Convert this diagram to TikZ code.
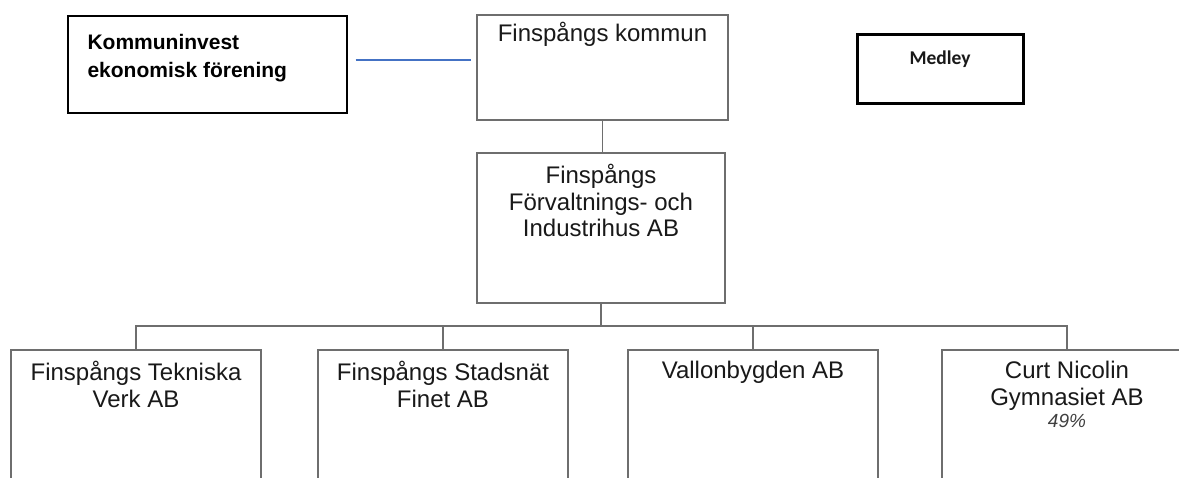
\documentclass[tikz,border=0pt]{standalone}
\usepackage{fontspec}
\setmainfont{Liberation Sans}
\newfontfamily\calfont{Carlito}
\definecolor{boxgray}{RGB}{110,110,110}
\definecolor{linkblue}{RGB}{68,114,196}
\definecolor{txtdark}{RGB}{25,25,25}
\begin{document}
\begin{tikzpicture}[x=1pt,y=-1pt,
  box/.style={draw=boxgray, line width=1.6pt, inner sep=0pt, rectangle},
  kbox/.style={draw=black, line width=1.3pt, inner sep=0pt, rectangle},
  mbox/.style={draw=black, line width=3pt, inner sep=0pt, rectangle},
  conn/.style={draw=boxgray, line width=1.6pt},
  bluelink/.style={draw=linkblue, line width=1.5pt},
  btxt/.style={font=\fontsize{24}{26.5}\selectfont, text=txtdark, align=center, anchor=north, inner sep=0pt},
  ktxt/.style={font=\fontsize{21}{28}\selectfont\bfseries, text=black, align=left, anchor=north west, inner sep=0pt},
  mtxt/.style={font=\calfont\fontsize{19.5}{22}\selectfont\bfseries, text=txtdark, anchor=north, inner sep=0pt}
]
\useasboundingbox (0,0) rectangle (1179,477);
\clip (0,0) rectangle (1179,477);
\fill[white] (0,0) rectangle (1179,477);

% boxes
\node[kbox, minimum width=279pt, minimum height=97pt] (kinv) at (207.5,64.5) {};
\node[box, minimum width=251pt, minimum height=105pt] (kommun) at (602.5,67.5) {};
\node[mbox, minimum width=166pt, minimum height=69pt] (medley) at (940,68.5) {};
\node[box, minimum width=248pt, minimum height=150pt] (ffi) at (601,228) {};

\node[box, minimum width=250pt, minimum height=220pt] (tek) at (136,460) {};
\node[box, minimum width=250pt, minimum height=220pt] (stad) at (443,460) {};
\node[box, minimum width=250pt, minimum height=220pt] (vall) at (753,460) {};
\node[box, minimum width=250pt, minimum height=220pt] (curt) at (1067,460) {};

% texts
\node[ktxt] (kinvt) at ([xshift=20pt,yshift=-19pt]kinv.north west) {Kommuninvest\\ekonomisk förening};
\node[btxt] (kommunt) at ([yshift=-8pt]kommun.north) {Finspångs kommun};
\node[mtxt] (medleyt) at ([yshift=-18pt]medley.north) {Medley};
\node[btxt] (ffit) at ([yshift=-12pt]ffi.north) {Finspångs\\Förvaltnings- och\\Industrihus AB};
\node[btxt] (tekt) at ([yshift=-12pt]tek.north) {Finspångs Tekniska\\Verk AB};
\node[btxt] (stadt) at ([yshift=-12pt]stad.north) {Finspångs Stadsnät\\Finet AB};
\node[btxt] (vallt) at ([yshift=-12pt]vall.north) {Vallonbygden AB};
\node[btxt] (curtt) at ([yshift=-12pt]curt.north) {Curt Nicolin\\Gymnasiet AB};
\node[font=\fontsize{19}{22}\selectfont\itshape, text=black!75, anchor=north, inner sep=0pt] (pct) at ([yshift=-4pt]curtt.south) {49\%};

% connectors
\coordinate (bus) at (0,326);
\draw[bluelink, shorten <=8pt, shorten >=5pt] ([yshift=4.5pt]kinv.east) -- ([yshift=4.5pt]kinv.east -| kommun.west);
\draw[conn] (kommun.south) -- (kommun.south |- ffi.north);
\draw[conn] (ffi.south) -- (ffi.south |- bus);
\draw[conn] (tek.north) -- (tek.north |- bus) -- (curt.north |- bus) -- (curt.north);
\draw[conn] (stad.north) -- (stad.north |- bus);
\draw[conn] (vall.north) -- (vall.north |- bus);
\end{tikzpicture}
\end{document}
